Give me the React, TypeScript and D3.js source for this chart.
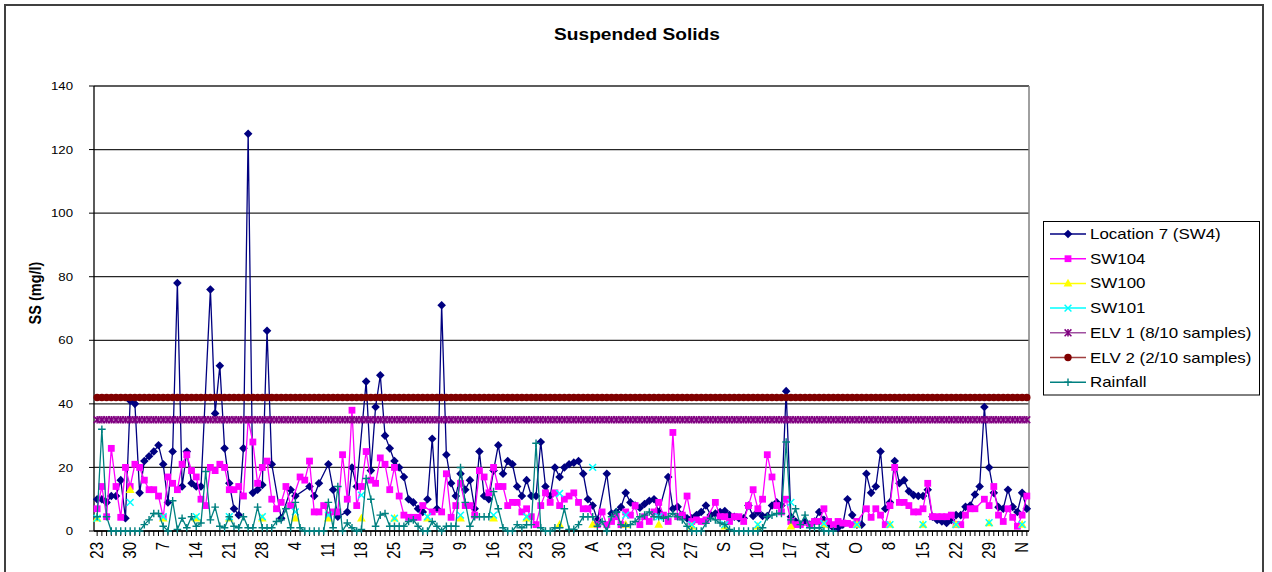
import React, { useEffect } from 'react';
import * as d3 from 'd3';

// first sampling day of the record, values below are one per day from here
const startDate = new Date(Date.UTC(2007, 3, 23));

const tickLabels = ['23', '30', '7', '14', '21', '28', '4', '11', '18', '25', 'Ju', '9', '16', '23', '30', 'A', '13', '20', '27', 'S', '10', '17', '24', 'O', '8', '15', '22', '29', 'N'];
const yTicks = [0, 20, 40, 60, 80, 100, 120, 140];

// Location 7 (SW4), daily
const location7 = [
  10, 10, 9, 11, 11, 16, 4, 41, 40, 12,
  22, 23.5, 25, 27, 21, 9, 25, 78, 14, 25,
  15, 14, 14, null, 76, 37, 52, 26, 15, 7,
  5, 26, 125, 12, 13, 14.5, 63, 21, null, 4,
  null, 13, 11, null, null, 14, 11, 15, null, 21,
  13, 4.5, null, 6, 20, 14, null, 47, 19, 39,
  49, 30, 26, 22, 20, 17, 10, 9, 7, 6,
  10, 29, 7, 71, 24, 15, 11, 18, 13, 16,
  7, 25, 11, 10, 19, 27, 18, 22, 21, 14,
  11, 16, 11, 11, 28, 14, 11, 20, 17, 20,
  21, 21.5, 22, 18, 10, 8, 3.5, null, 18, 5.5,
  6, 7.5, 12, 9, 8, 7.3, 8.5, 9.5, 10, 6,
  null, 17, 7, 7.6, 5, 4, 4, 5, 6, 8,
  5, 5.5, 6, 6.3, 5, 4.5, 4, 4, 8, 4.7,
  6, 4.7, 4.7, 8, 9, 8, 44, 4.5, 3, 2,
  3, 2, 3, 6, 3.5, 2, 1, 1, 2, 10,
  5, 2, 2, 18, 12, 14, 25, 7, 9, 22,
  15, 16, 12.5, 11.3, 11, 11, 13, 4.5, 3.5, 3,
  2.5, 3.5, 5, 5, 7.6, 8, 11.5, 14, 39, 20,
  12, 7.5, 7, 13, 7.6, 6, 12, 7,
];

// SW104, daily
const sw104 = [
  7, 14, 4.5, 26, 14, 4.3, 20, 14, 21, 20,
  16, 13, 13, 11, 4.3, 17, 15, 13, 21, 24,
  19, 17, 10, 8, 20, 19, 21, 20, 13, 13,
  14, 11, 35, 28, 15, 20, 22, 10, 7, 9,
  14, 8, null, 17, 16, 22, 6, 6, 8, 5,
  6, 6, 24, 10, 38, 8, 14, 25, 16, 15,
  23, 21, 13, 20, 11, 5, 4.3, 4.3, 4.3, 8,
  null, 6, null, 6, 18, 4.3, 8, 15, 8, 8,
  5, 19, 17, 12, 20, 14, 14, 8, 9, 9,
  6, 7, 4.5, 2, 8, 12, 9, 12, 8, 10,
  11, 12, 9, 7, 7, null, 2, 6, 2, 3,
  4.5, 2, 6, 5, 8, 2, 4.5, 3, 6, 9,
  5, 3, 31, 4.5, 5, 11, 3, 3.5, 3, 3.5,
  null, 9, 4.5, 4.5, 3, 4.5, 4.5, 3, 8, 13,
  7, 10, 24, 17, 8, 6, 10, 3, 2, 2,
  null, 2, 3, 3, 7, 3, 2, 3, 2.5, 2.4,
  2, 3, null, 7, 4.3, 7, 5, 2, 8, 20,
  9, 9, 8, 6, 6, 7, 15, 4.5, 4.5, 4.5,
  4.5, 5, 2, 2, 5, 7, 7, null, 10, 8,
  14, 5, 3, 7, 4.3, 1.5, 5, 11,
];

// weekly samples
const sw100 = [4, 13, 4, 4, 4, 4, 4, 4, 4, 4, 4, 4, 4, 4, 2, 2, 2, 2, 1.5, 1.5, 1.5, 1.5, 2, 2, 2, 2, 2, 2.5, 2];
const sw101 = [4, 9, 4.5, 4.5, 4.5, 4.5, 6, 5, 11.3, 4, 4.5, 5, 5, 4.5, 11.8, 20, 5, 4.5, 2, 2, 2, 9, 2.3, 2, 2, 2, 2, 2.6, 2];

// limit values
const elv1 = 35;
const elv2 = 42;
const elvDays = 198;

// Rainfall, daily
const rainfall = [
  4.5, 32, 4.5, 0, 0, 0, 0, 0, 0, 0,
  2, 3.5, 5.5, 5.5, 1.5, 0, 9.5, 0.5, 4, 1,
  4.5, 1.5, 2.5, 18.7, 3.5, 7.5, 1.5, 1, 4.5, 1.5,
  1, 4.5, 1, 1, 7.5, 1, 1, 1, 3, 3.5,
  7, 1, 9, 1, 0, 0, 0, 0, 0, 9,
  1, 14, 0, 2.5, 1, 0, 0.5, 16.5, 10, 1.5,
  5, 5.5, 1.5, 1.5, 1.5, 1.5, 3, 3.5, 1.5, 0,
  0, 3, 1.5, 0, 1.5, 1.5, 1.5, 20, 9, 1.5,
  4.5, 4.5, 4.5, 4.5, 12.4, 7, 1, 0, 0, 2,
  1, 2, 2, 27.6, 1, 0, 0, 1, 1, 7,
  0.5, 0.5, 2, 4.5, 4.5, 4.5, 1.5, 3, 0, 4.5,
  6, 2, 1.5, 2, 3, 4.5, 5, 6, 4.5, 4.5,
  4, 4.5, 5.5, 4.5, 3.5, 1.5, 0, 0, 0, 2.4,
  4, 3.5, 2.5, 2, 0.5, 0, 0, 0, 0, 0,
  0, 1, 4.5, 5, 5.5, 5.5, 28, 3.5, 7, 2,
  5, 1, 1, 1, 0, 0, 0,
];

type Pt = { date: Date; v: number };

const daily = (vals: (number | null)[]): Pt[] =>
  vals
    .map((v, i) => ({ date: d3.utcDay.offset(startDate, i), v }))
    .filter((p) => p.v !== null) as Pt[];
const weekly = (vals: number[]): Pt[] => vals.map((v, i) => ({ date: d3.utcDay.offset(startDate, i * 7), v }));
const flat = (v: number): Pt[] => d3.range(elvDays).map((i) => ({ date: d3.utcDay.offset(startDate, i), v }));

const FONT = '"Liberation Sans", Arial, sans-serif';

const marker = (kind: string, cx: number, cy: number, color: string, key?: any) => {
  const t = `translate(${cx},${cy})`;
  switch (kind) {
    case 'diamond':
      return <path key={key} transform={t} d="M0,-4.3L4.3,0L0,4.3L-4.3,0Z" fill={color} />;
    case 'square':
      return <rect key={key} x={cx - 3.4} y={cy - 3.4} width={6.8} height={6.8} fill={color} />;
    case 'triangle':
      return <path key={key} transform={t} d="M0,-4.6L4.4,3.2L-4.4,3.2Z" fill={color} />;
    case 'x':
      return <path key={key} transform={t} d="M-3.4,-3.4L3.4,3.4M-3.4,3.4L3.4,-3.4" stroke={color} strokeWidth={1.5} fill="none" />;
    case 'plus':
      return <path key={key} transform={t} d="M-3.8,0L3.8,0M0,-3.8L0,3.8" stroke={color} strokeWidth={1.4} fill="none" />;
    case 'star':
      return <path key={key} transform={t} d="M-3.4,-3.4L3.4,3.4M-3.4,3.4L3.4,-3.4M0,-3.8L0,3.8" stroke={color} strokeWidth={1.5} fill="none" />;
    case 'circle':
      return <circle key={key} cx={cx} cy={cy} r={3.7} fill={color} />;
    default:
      return null;
  }
};

const series = [
  { name: 'Location 7 (SW4)', data: daily(location7), line: '#000080', color: '#000080', mark: 'diamond', drawLine: true },
  { name: 'SW104', data: daily(sw104), line: '#FF00FF', color: '#FF00FF', mark: 'square', drawLine: true },
  { name: 'SW100', data: weekly(sw100), line: '#FFFF00', color: '#FFFF00', mark: 'triangle', drawLine: false },
  { name: 'SW101', data: weekly(sw101), line: '#00FFFF', color: '#00FFFF', mark: 'x', drawLine: false },
  { name: 'ELV 1 (8/10 samples)', data: flat(elv1), line: '#A050A0', color: '#800080', mark: 'star', drawLine: true },
  { name: 'ELV 2 (2/10 samples)', data: flat(elv2), line: '#A04040', color: '#800000', mark: 'circle', drawLine: true },
  { name: 'Rainfall', data: daily(rainfall), line: '#008080', color: '#008080', mark: 'plus', drawLine: true },
];

const plot = { left: 94, right: 1029, top: 86, bottom: 531 };

export default function App() {
  useEffect(() => {
    document.body.style.margin = '0';
  }, []);

  const x = d3
    .scaleUtc()
    .domain([d3.utcHour.offset(startDate, -15.3), d3.utcHour.offset(startDate, 4739)])
    .range([plot.left, plot.right]);
  const y = d3.scaleLinear().domain([0, 140]).range([plot.bottom, plot.top]);
  const line = d3
    .line<Pt>()
    .x((d) => x(d.date))
    .y((d) => y(d.v));

  const dayTicks = d3.range(elvDays).map((i) => d3.utcDay.offset(startDate, i));
  const weekTicks = tickLabels.map((t, i) => ({ t, date: d3.utcDay.offset(startDate, i * 7) }));

  return (
    <svg width={1272} height={572} style={{ display: 'block', background: '#fff' }} fontFamily={FONT}>
      <rect x={5} y={5} width={1258} height={620} fill="#fff" stroke="#404040" strokeWidth={2} />

      <text transform="translate(637,39.5) scale(1.16,1)" textAnchor="middle" fontSize={16.5} fontWeight="bold">
        Suspended Solids
      </text>

      {/* grid */}
      {yTicks.map((t) => (
        <line key={t} x1={plot.left} x2={plot.right} y1={y(t)} y2={y(t)} stroke="#262626" strokeWidth={1.3} />
      ))}
      <line x1={plot.right} x2={plot.right} y1={plot.top} y2={plot.bottom} stroke="#808080" strokeWidth={1.5} />

      {/* y axis */}
      <line x1={plot.left} x2={plot.left} y1={plot.top} y2={plot.bottom} stroke="#000" strokeWidth={1.3} />
      {yTicks.map((t) => (
        <g key={t}>
          <line x1={plot.left - 5} x2={plot.left} y1={y(t)} y2={y(t)} stroke="#000" />
          <text transform={`translate(73,${y(t) + 4.2}) scale(1.15,1)`} textAnchor="end" fontSize={11.5}>
            {t}
          </text>
        </g>
      ))}
      <text transform="translate(41,293) scale(1.18,1) rotate(-90)" textAnchor="middle" fontSize={14.5} fontWeight="bold">
        SS (mg/l)
      </text>

      {/* x axis */}
      <line x1={plot.left} x2={plot.right} y1={plot.bottom} y2={plot.bottom} stroke="#000" strokeWidth={1.3} />
      {dayTicks.map((d, i) => (
        <line key={i} x1={x(d)} x2={x(d)} y1={plot.bottom} y2={plot.bottom + 5} stroke="#000" />
      ))}
      {weekTicks.map((w, i) => (
        <text
          key={i}
          transform={`translate(${x(w.date) + 5.5},542) scale(1.18,1) rotate(-90)`}
          textAnchor="end"
          fontSize={15}
        >
          {w.t}
        </text>
      ))}

      {/* series */}
      {series.map((s) => (
        <g key={s.name}>
          {s.drawLine && <path d={line(s.data) || ''} fill="none" stroke={s.line} strokeWidth={1.3} />}
          {s.data.map((p, i) => marker(s.mark, x(p.date), y(p.v), s.color, i))}
        </g>
      ))}

      {/* legend */}
      <rect x={1043.5} y={221.5} width={216} height={173.5} fill="#fff" stroke="#000" strokeWidth={1} />
      {series.map((s, i) => {
        const cy = 234 + i * 24.7;
        return (
          <g key={s.name}>
            <line x1={1050} x2={1086} y1={cy} y2={cy} stroke={s.line} strokeWidth={1.5} />
            {marker(s.mark, 1068, cy, s.color)}
            <text transform={`translate(1090,${cy + 5}) scale(1.21,1)`} fontSize={14}>
              {s.name}
            </text>
          </g>
        );
      })}
    </svg>
  );
}
